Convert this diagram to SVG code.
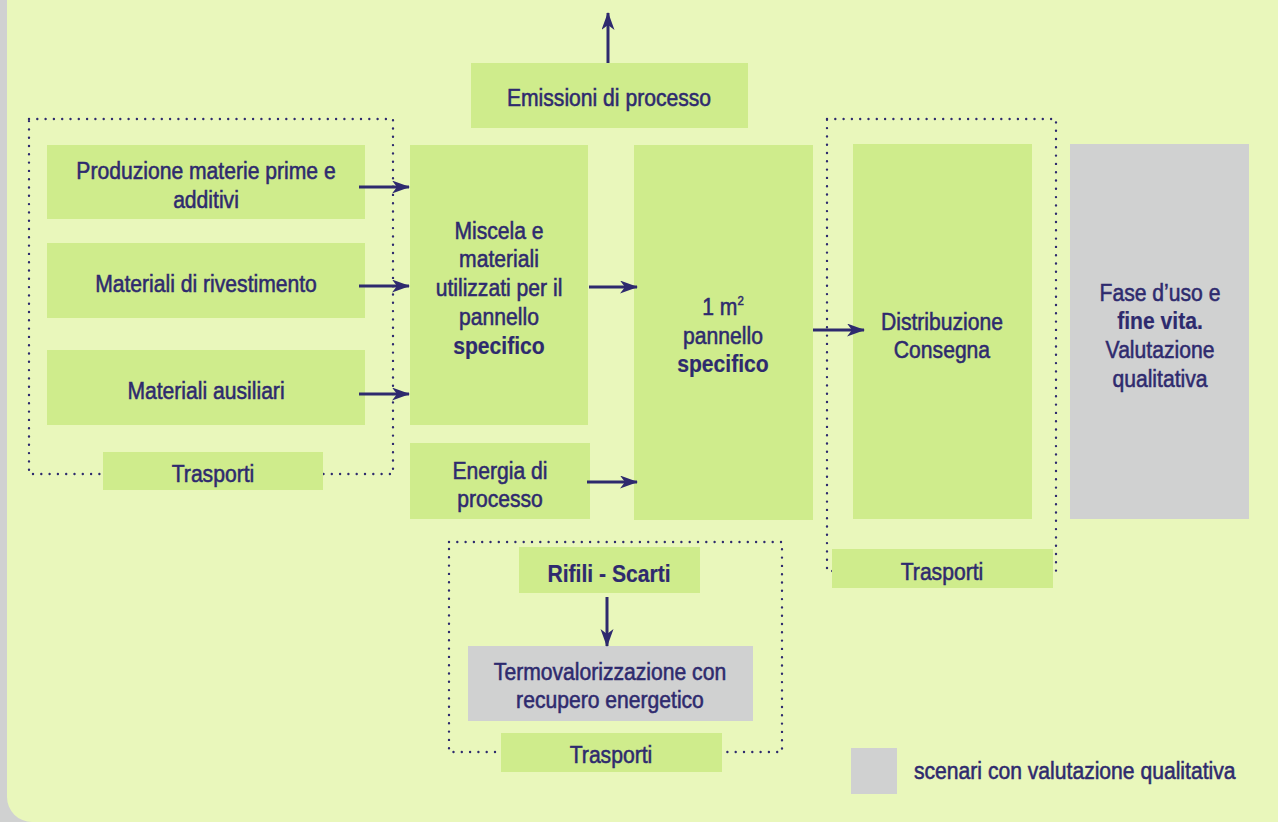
<svg xmlns="http://www.w3.org/2000/svg" width="1278" height="822" viewBox="0 0 1278 822">
<style>
.g{fill:#cfec8c}
.q{fill:#d0d1d1}
.t{font-family:"Liberation Sans",Arial,sans-serif;font-size:24px;fill:#2e2a6e;stroke:#2e2a6e;stroke-width:0.55;text-anchor:middle}
.b{font-weight:bold;stroke-width:0.2}
.dot{fill:none;stroke:#2e2a6e;stroke-width:2.4;stroke-dasharray:0 8.3;stroke-linecap:round}
.ar{stroke:#2e2a6e;stroke-width:3;fill:none;marker-end:url(#ah)}
</style>
<defs>
<marker id="ah" markerUnits="userSpaceOnUse" markerWidth="20" markerHeight="14" refX="17" refY="6.5" orient="auto">
<path d="M0,0 L18,6.5 L0,13 L5,6.5 z" fill="#2e2a6e"/>
</marker>
</defs>
<rect x="0" y="0" width="1278" height="822" fill="#d0d1d1"/>
<rect x="7" y="-40" width="1320" height="862" rx="25" fill="#e9f7bb"/>
<g id="frames">
<rect class="dot" x="29" y="119" width="364" height="355"/>
<rect class="dot" x="827" y="119" width="229" height="452"/>
<rect class="dot" x="449" y="542" width="333" height="210"/>
</g>
<g id="emissioni"><rect class="g" x="471" y="63" width="277" height="65"/><g transform="scale(0.88,1)"><text class="t" x="692.05" y="106">Emissioni di processo</text></g></g>
<g id="produzione"><rect class="g" x="47" y="145" width="318" height="74"/><g transform="scale(0.88,1)"><text class="t" x="234.09" y="179">Produzione materie prime e</text><text class="t" x="234.09" y="208">additivi</text></g></g>
<g id="rivestimento"><rect class="g" x="47" y="243" width="318" height="75"/><g transform="scale(0.88,1)"><text class="t" x="234.09" y="292">Materiali di rivestimento</text></g></g>
<g id="ausiliari"><rect class="g" x="47" y="350" width="318" height="75"/><g transform="scale(0.88,1)"><text class="t" x="234.09" y="399">Materiali ausiliari</text></g></g>
<g id="trasporti1"><rect class="g" x="103" y="452" width="220" height="38"/><g transform="scale(0.88,1)"><text class="t" x="242.05" y="482">Trasporti</text></g></g>
<g id="miscela"><rect class="g" x="410" y="145" width="178" height="280"/><g transform="scale(0.88,1)">
<text class="t" x="567.05" y="239">Miscela e</text><text class="t" x="567.05" y="267">materiali</text><text class="t" x="567.05" y="296">utilizzati per il</text><text class="t" x="567.05" y="325">pannello</text><text class="t b" x="567.05" y="354">specifico</text></g></g>
<g id="energia"><rect class="g" x="410" y="443" width="180" height="76"/><g transform="scale(0.88,1)"><text class="t" x="568.18" y="479">Energia di</text><text class="t" x="568.18" y="507">processo</text></g></g>
<g id="pannello"><rect class="g" x="634" y="145" width="179" height="375"/><g transform="scale(0.88,1)">
<text class="t" x="821.59" y="315">1 m<tspan font-size="13" dy="-10">2</tspan></text><text class="t" x="821.59" y="344">pannello</text><text class="t b" x="821.59" y="372">specifico</text></g></g>
<g id="distribuzione"><rect class="g" x="853" y="144" width="179" height="375"/><g transform="scale(0.88,1)"><text class="t" x="1070.45" y="330">Distribuzione</text><text class="t" x="1070.45" y="358">Consegna</text></g></g>
<g id="fase"><rect class="q" x="1070" y="144" width="179" height="375"/><g transform="scale(0.88,1)">
<text class="t" x="1318.18" y="301">Fase d’uso e</text><text class="t b" x="1318.18" y="329">fine vita.</text><text class="t" x="1318.18" y="358">Valutazione</text><text class="t" x="1318.18" y="387">qualitativa</text></g></g>
<g id="trasporti2"><rect class="g" x="832" y="549" width="221" height="39"/><g transform="scale(0.88,1)"><text class="t" x="1070.45" y="580">Trasporti</text></g></g>
<g id="rifili"><rect class="g" x="519" y="547" width="181" height="46"/><g transform="scale(0.88,1)"><text class="t b" x="692.05" y="582">Rifili - Scarti</text></g></g>
<g id="termo"><rect class="q" x="468" y="646" width="285" height="75"/><g transform="scale(0.88,1)"><text class="t" x="693.18" y="680">Termovalorizzazione con</text><text class="t" x="693.18" y="708">recupero energetico</text></g></g>
<g id="trasporti3"><rect class="g" x="501" y="733" width="221" height="39"/><g transform="scale(0.88,1)"><text class="t" x="694.32" y="763">Trasporti</text></g></g>
<g id="legenda"><rect class="q" x="851" y="748" width="46" height="46"/><g transform="scale(0.88,1)"><text class="t" x="1038.64" y="779" style="text-anchor:start">scenari con valutazione qualitativa</text></g></g>
<g id="connectors">
<line class="ar" x1="608" y1="63" x2="608" y2="13"/>
<line class="ar" x1="359" y1="187" x2="409" y2="187"/>
<line class="ar" x1="359" y1="286" x2="409" y2="286"/>
<line class="ar" x1="359" y1="394" x2="409" y2="394"/>
<line class="ar" x1="589" y1="287" x2="637" y2="287"/>
<line class="ar" x1="587" y1="482" x2="637" y2="482"/>
<line class="ar" x1="813" y1="330" x2="864" y2="330"/>
<line class="ar" x1="607" y1="597" x2="607" y2="646"/>
</g>
</svg>
